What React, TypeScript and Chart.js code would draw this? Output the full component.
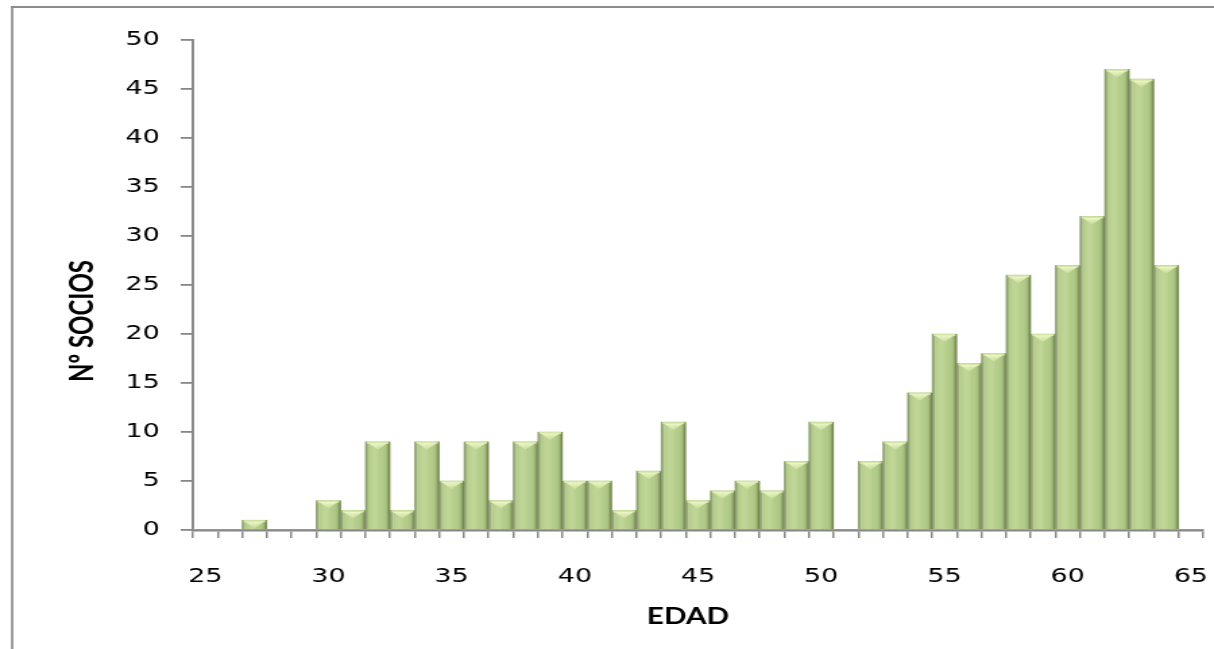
import React, { useEffect, useRef } from "react";
import { Chart, registerables } from "chart.js";

Chart.register(...registerables);

// ---- data ----
const edades = [
  "25", "26", "27", "28", "29", "30", "31", "32", "33", "34",
  "35", "36", "37", "38", "39", "40", "41", "42", "43", "44",
  "45", "46", "47", "48", "49", "50", "51", "52", "53", "54",
  "55", "56", "57", "58", "59", "60", "61", "62", "63", "64", "65",
];
const socios = [
  0, 0, 1, 0, 0, 3, 2, 9, 2, 9,
  5, 9, 3, 9, 10, 5, 5, 2, 6, 11,
  3, 4, 5, 4, 7, 11, 0, 7, 9, 14,
  20, 17, 18, 26, 20, 27, 32, 47, 46, 27, 0,
];
const xTickLabels = ["25", "30", "35", "40", "45", "50", "55", "60", "65"];
const yMax = 50;
const yStep = 5;
const xTitle = "EDAD";
const yTitle = "Nº SOCIOS";

// ---- sizes (drawn narrower, shown stretched like the original) ----
const DISPLAY_W = 1214;
const H = 649;
const W = 900;
const SX = DISPLAY_W / W;

const AXIS_COLOR = "#878787";

const framePlugin = {
  id: "frame",
  beforeDraw(chart: any) {
    const ctx = chart.ctx;
    ctx.save();
    ctx.fillStyle = "#ffffff";
    ctx.fillRect(0, 0, chart.width, chart.height);
    ctx.strokeStyle = "#8c8c8c";
    ctx.lineWidth = 2.3 / SX;
    ctx.beginPath();
    ctx.moveTo(12.2 / SX, 6);
    ctx.lineTo(12.2 / SX, chart.height);
    ctx.stroke();
    ctx.lineWidth = 2;
    ctx.beginPath();
    ctx.moveTo(11 / SX, 7);
    ctx.lineTo(chart.width, 7);
    ctx.stroke();
    ctx.restore();
  },
};

const barShadePlugin = {
  id: "barShade",
  afterDatasetsDraw(chart: any) {
    const ctx = chart.ctx;
    const meta = chart.getDatasetMeta(0);
    ctx.save();
    meta.data.forEach((el: any, i: number) => {
      if (!socios[i]) return;
      const p = el.getProps(["x", "y", "base", "width"], true);
      const l = p.x - p.width / 2;
      const r = p.x + p.width / 2;
      const t = Math.min(p.y, p.base);
      const b = Math.max(p.y, p.base);
      const w = r - l;
      const h = b - t;
      const g = ctx.createLinearGradient(l, 0, r, 0);
      g.addColorStop(0, "rgba(128,140,110,0.95)");
      g.addColorStop(0.09, "rgba(150,166,122,0.6)");
      g.addColorStop(0.14, "rgba(255,255,255,0)");
      g.addColorStop(0.38, "rgba(225,242,180,0.28)");
      g.addColorStop(0.62, "rgba(255,255,255,0)");
      g.addColorStop(0.86, "rgba(70,90,40,0.14)");
      g.addColorStop(1, "rgba(80,95,55,0.75)");
      ctx.fillStyle = g;
      ctx.fillRect(l, t, w, h);
      // light cap
      const capH = Math.min(8, h);
      ctx.fillStyle = "#d4e7a6";
      ctx.fillRect(l + w * 0.06, t, w * 0.88, Math.min(2, h));
      const tg = ctx.createLinearGradient(0, t, 0, t + capH);
      tg.addColorStop(0, "rgba(250,253,218,1)");
      tg.addColorStop(1, "rgba(215,235,165,0.5)");
      ctx.fillStyle = tg;
      ctx.beginPath();
      ctx.moveTo(l + w * 0.12, t + 1.5);
      ctx.lineTo(r - w * 0.12, t + 1.5);
      ctx.lineTo(p.x, t + capH);
      ctx.closePath();
      ctx.fill();
    });
    ctx.restore();
  },
};

const titlesPlugin = {
  id: "axisTitles",
  afterDraw(chart: any) {
    const ctx = chart.ctx;
    ctx.save();
    ctx.fillStyle = "#000000";
    ctx.textAlign = "center";
    ctx.textBaseline = "middle";
    ctx.font = "bold 22px Lato, 'Liberation Sans', sans-serif";
    ctx.fillText(xTitle, 688 / SX, 617);
    ctx.font = "bold 24px Lato, 'Liberation Sans', sans-serif";
    ctx.translate(82 / SX, 321);
    ctx.rotate(-Math.PI / 2);
    ctx.fillText(yTitle, 0, 0);
    ctx.restore();
  },
};

export default function App() {
  const ref = useRef<HTMLCanvasElement | null>(null);

  useEffect(() => {
    if (!ref.current) return;
    const chart = new Chart(ref.current, {
      type: "bar",
      data: {
        labels: edades,
        datasets: [
          {
            data: socios,
            backgroundColor: "#b3cc88",
            borderWidth: 0,
            categoryPercentage: 1,
            barPercentage: 1,
          },
        ],
      },
      options: {
        responsive: false,
        animation: false,
        devicePixelRatio: 1,
        layout: { padding: { top: 40, right: 8, left: 0, bottom: 0 } },
        plugins: {
          legend: { display: false },
          tooltip: { enabled: false },
          title: { display: false },
        },
        scales: {
          x: {
            type: "category",
            offset: true,
            afterFit: (scale: any) => {
              scale.height = 119;
              scale.paddingLeft = 0;
              scale.paddingRight = 0;
            },
            grid: {
              display: true,
              offset: true,
              drawOnChartArea: false,
              drawTicks: true,
              tickLength: 8,
              color: AXIS_COLOR,
              lineWidth: 2 / SX,
            },
            border: { display: true, color: AXIS_COLOR, width: 2.6 },
            ticks: {
              autoSkip: false,
              maxRotation: 0,
              minRotation: 0,
              padding: 27,
              color: "#000000",
              font: { family: "'DejaVu Sans'", size: 20 },
              callback: (_v: any, i: number) =>
                xTickLabels.includes(edades[i]) ? edades[i] : "",
            },
          },
          y: {
            min: 0,
            max: yMax,
            afterFit: (scale: any) => {
              scale.width = 143;
            },
            grid: {
              display: true,
              drawOnChartArea: false,
              drawTicks: true,
              tickLength: 9,
              color: AXIS_COLOR,
              lineWidth: 1.8,
            },
            border: { display: true, color: AXIS_COLOR, width: 2.6 / SX },
            ticks: {
              stepSize: yStep,
              padding: 15.5,
              color: "#000000",
              font: { family: "'DejaVu Sans'", size: 20 },
            },
          },
        },
      },
      plugins: [framePlugin, barShadePlugin, titlesPlugin],
    });
    return () => chart.destroy();
  }, []);

  return (
    <div
      style={{
        position: "absolute",
        left: 0,
        top: 0,
        width: DISPLAY_W,
        height: H,
        background: "#ffffff",
      }}
    >
      <canvas
        ref={ref}
        width={W}
        height={H}
        style={{ width: DISPLAY_W + "px", height: H + "px", display: "block" }}
      />
    </div>
  );
}
